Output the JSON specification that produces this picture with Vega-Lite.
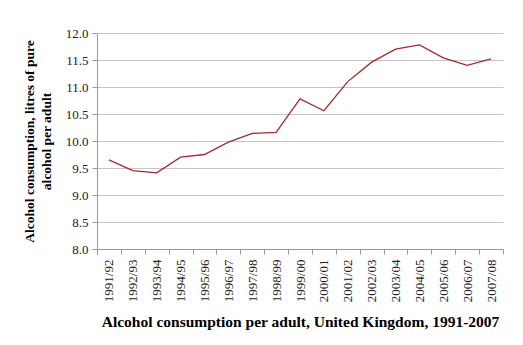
{
  "$schema": "https://vega.github.io/schema/vega-lite/v6.json",
  "autosize": "none",
  "width": 406,
  "height": 216,
  "padding": {"left": 97, "top": 33, "right": 20, "bottom": 96},
  "background": "white",
  "config": {"view": {"stroke": null}},
  "data": {"values": [
    {"year": "1991/92", "litres": 9.65},
    {"year": "1992/93", "litres": 9.45},
    {"year": "1993/94", "litres": 9.41},
    {"year": "1994/95", "litres": 9.70},
    {"year": "1995/96", "litres": 9.75},
    {"year": "1996/97", "litres": 9.98},
    {"year": "1997/98", "litres": 10.14},
    {"year": "1998/99", "litres": 10.16},
    {"year": "1999/00", "litres": 10.78},
    {"year": "2000/01", "litres": 10.56},
    {"year": "2001/02", "litres": 11.10},
    {"year": "2002/03", "litres": 11.46},
    {"year": "2003/04", "litres": 11.70},
    {"year": "2004/05", "litres": 11.78},
    {"year": "2005/06", "litres": 11.54},
    {"year": "2006/07", "litres": 11.40},
    {"year": "2007/08", "litres": 11.52}
  ]},
  "mark": {"type": "line", "color": "#a52a2a", "strokeWidth": 1.3},
  "encoding": {
    "x": {
      "field": "year", "type": "ordinal", "sort": null,
      "bandPosition": 0.5,
      "scale": {"type": "band", "paddingInner": 0, "paddingOuter": 0},
      "axis": {
        "title": "Alcohol consumption per adult, United Kingdom, 1991-2007",
        "titleFont": "Liberation Serif", "titleFontSize": 15.5, "titleFontWeight": "bold",
        "titleColor": "#000", "titlePadding": 13,
        "labelFont": "Liberation Serif", "labelFontSize": 13, "labelColor": "#222",
        "labelAngle": -90, "labelPadding": 5,
        "tickBand": "extent", "tickSize": 5, "tickColor": "#999",
        "domainColor": "#999", "grid": false
      }
    },
    "y": {
      "field": "litres", "type": "quantitative",
      "scale": {"domain": [8, 12], "nice": false, "zero": false},
      "axis": {
        "values": [8, 8.5, 9, 9.5, 10, 10.5, 11, 11.5, 12],
        "format": ".1f",
        "title": ["Alcohol consumption, litres of pure", "alcohol per adult"],
        "titleFont": "Liberation Serif", "titleFontSize": 13.5, "titleFontWeight": "bold",
        "titleColor": "#000", "titlePadding": 12, "titleLineHeight": 17,
        "labelFont": "Liberation Serif", "labelFontSize": 13, "labelColor": "#222",
        "labelPadding": 4,
        "tickSize": 5, "tickColor": "#999",
        "domainColor": "#999",
        "gridColor": "#c4c4c4"
      }
    }
  }
}
